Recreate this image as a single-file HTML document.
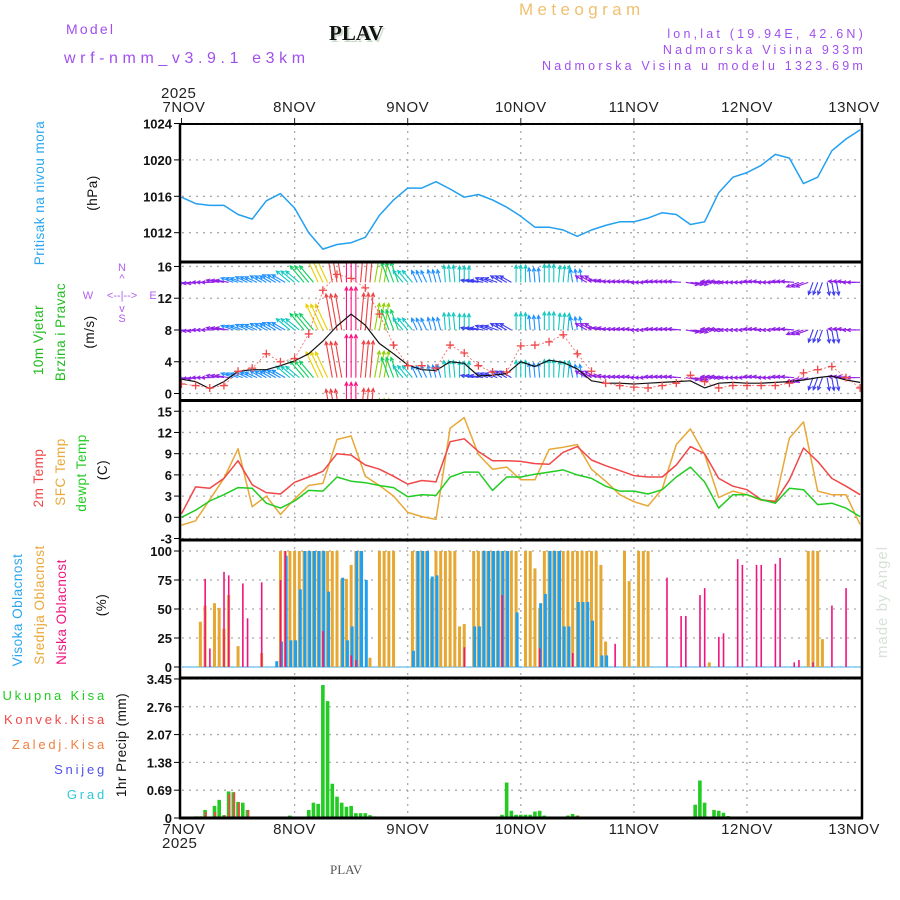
<!DOCTYPE html>
<html><head><meta charset="utf-8"><style>
html,body{margin:0;padding:0;background:#fff;}
svg{display:block;font-family:"Liberation Sans",sans-serif;}
.tk{font-size:13px;font-weight:bold;fill:#111;text-anchor:end;}
.xt{font-size:15px;fill:#222;letter-spacing:0.5px;}
.lg{font-size:13px;letter-spacing:2.8px;}
</style></head><body>
<svg id="chart" width="900" height="900" viewBox="0 0 900 900">
<defs>
<clipPath id="cpP"><rect x="180" y="124" width="682" height="138"/></clipPath>
<clipPath id="cpW"><rect x="181" y="263" width="681" height="137"/></clipPath>
<clipPath id="cpT"><rect x="180" y="401" width="682" height="139"/></clipPath>
</defs>
<text x="66" y="34" fill="#a050ee" font-size="14" letter-spacing="2.2">Model</text>
<text x="64" y="63" fill="#a050ee" font-size="16" letter-spacing="4.6">wrf-nmm_v3.9.1 e3km</text>
<text x="331" y="42" fill="#ccdccc" font-size="21" font-weight="bold" font-family="Liberation Serif,serif">PLAV</text>
<text x="329" y="40" fill="#111" font-size="21" font-weight="bold" font-family="Liberation Serif,serif">PLAV</text>
<text x="519" y="15" fill="#f0c070" font-size="17" letter-spacing="4.4">Meteogram</text>
<text x="866" y="38" fill="#a050ee" font-size="12.5" letter-spacing="3.2" text-anchor="end">lon,lat (19.94E, 42.6N)</text>
<text x="866" y="54" fill="#a050ee" font-size="12.5" letter-spacing="3.2" text-anchor="end">Nadmorska Visina 933m</text>
<text x="866" y="70" fill="#a050ee" font-size="12.5" letter-spacing="3.2" text-anchor="end">Nadmorska Visina u modelu 1323.69m</text>
<text x="161" y="98" class="xt">2025</text>
<text transform="translate(887 602) rotate(-90)" fill="#d8e2d8" font-size="15" letter-spacing="1" text-anchor="middle">made by Angel</text>
<g font-size="13.5" letter-spacing="0.5">
<text transform="translate(44 193) rotate(-90)" text-anchor="middle" fill="#2aa6f0">Pritisak na nivou mora</text>
<text transform="translate(97 193) rotate(-90)" text-anchor="middle" fill="#111">(hPa)</text>
<text transform="translate(43 340) rotate(-90)" text-anchor="middle" fill="#22bb22">10m Vjetar</text>
<text transform="translate(65 332) rotate(-90)" text-anchor="middle" fill="#22bb22">Brzina i Pravac</text>
<text transform="translate(94 332) rotate(-90)" text-anchor="middle" fill="#111">(m/s)</text>
<text transform="translate(43 478) rotate(-90)" text-anchor="middle" fill="#f04848">2m Temp</text>
<text transform="translate(65 472) rotate(-90)" text-anchor="middle" fill="#e8a838">SFC Temp</text>
<text transform="translate(86 473) rotate(-90)" text-anchor="middle" fill="#22cc22">dewpt Temp</text>
<text transform="translate(107 470) rotate(-90)" text-anchor="middle" fill="#111">(C)</text>
<text transform="translate(22 610) rotate(-90)" text-anchor="middle" fill="#2aa6f0">Visoka Oblacnost</text>
<text transform="translate(44 605) rotate(-90)" text-anchor="middle" fill="#e8a838">Srednja Oblacnost</text>
<text transform="translate(66 612) rotate(-90)" text-anchor="middle" fill="#f0147f">Niska Oblacnost</text>
<text transform="translate(106 605) rotate(-90)" text-anchor="middle" fill="#111">(%)</text>
<text transform="translate(126 745) rotate(-90)" text-anchor="middle" fill="#111">1hr Precip (mm)</text>
</g>
<g class="lg" text-anchor="end">
<text x="107" y="700" fill="#22cc22">Ukupna Kisa</text>
<text x="107" y="724" fill="#f04848">Konvek.Kisa</text>
<text x="107" y="749" fill="#f08040">Zaledj.Kisa</text>
<text x="107" y="774" fill="#5050f0">Snijeg</text>
<text x="107" y="799" fill="#30c8d8">Grad</text>
</g>
<g fill="#b060f0" font-size="11" text-anchor="middle">
<text x="122" y="271">N</text><text x="122" y="282">^</text>
<text x="122" y="299">&lt;--|--&gt;</text>
<text x="88" y="299">W</text><text x="153" y="299">E</text>
<text x="122" y="312">v</text><text x="122" y="322">S</text>
</g>
<text x="162" y="848" class="xt">2025</text>
<text x="330" y="874" fill="#555" font-size="13" font-family="Liberation Serif,serif">PLAV</text>
<g id="plots"></g>
</svg>
<script>
const NS='http://www.w3.org/2000/svg';
const days=['7NOV','8NOV','9NOV','10NOV','11NOV','12NOV','13NOV'];
const pTicks=[1012,1016,1020,1024];
const wTicks=[0,4,8,12,16];
const tTicks=[-3,0,3,6,9,12,15];
const cTicks=[0,25,50,75,100];
const rTicks=[0,0.69,1.38,2.07,2.76,3.45];
// 3-hourly series, hour 0..144
const pressure=[1015.9,1015.2,1015.0,1015.0,1014.0,1013.5,1015.5,1016.3,1014.7,1012.0,1010.2,1010.7,1010.9,1011.5,1013.9,1015.6,1016.9,1016.9,1017.6,1016.8,1015.9,1016.2,1015.6,1014.8,1013.8,1012.6,1012.6,1012.3,1011.6,1012.3,1012.8,1013.2,1013.2,1013.6,1014.2,1014.0,1012.9,1013.2,1016.4,1018.1,1018.6,1019.4,1020.6,1020.2,1017.4,1018.1,1021.0,1022.3,1023.3];
const temp2m=[0.5,4.3,4.1,5.5,8.0,4.6,3.5,3.3,4.95,5.7,6.5,9.0,8.8,7.4,6.8,5.8,4.7,5.2,5.0,10.7,11.1,9.3,8.0,8.0,7.9,7.6,7.5,9.2,10.0,8.1,7.3,6.6,5.9,5.7,5.7,7.4,10.0,9.0,5.5,4.4,3.9,2.5,2.2,5.3,9.8,7.9,5.5,4.4,3.2];
const tempSfc=[-1.1,-0.5,2.5,5.5,9.7,1.5,3.0,0.4,2.6,4.5,4.8,11.0,11.5,5.8,4.5,3.0,0.7,0.1,-0.3,12.6,14.1,8.9,6.8,7.1,5.3,5.3,9.6,9.9,10.3,6.8,5.1,3.2,2.2,1.6,4.0,10.3,12.5,8.9,2.8,3.7,3.2,2.4,2.3,11.2,13.5,3.7,3.2,3.2,-1.0];
const dewpt=[0.0,1.0,2.3,3.2,4.2,4.1,2.0,1.3,2.3,3.8,3.7,5.7,5.1,4.9,4.5,4.2,2.9,3.2,3.1,5.7,6.4,6.4,3.8,5.7,5.7,6.1,6.4,6.7,6.0,5.5,4.4,3.7,3.7,3.3,3.9,5.7,7.1,5.0,1.3,3.2,3.2,2.5,2.0,4.1,3.9,1.8,2.0,1.3,0.1];
const windSpeed=[1.8,1.5,0.6,1.5,2.8,3.0,3.0,3.5,4.1,5.0,6.6,8.5,10.0,8.6,6.3,5.0,3.6,3.0,2.9,4.0,3.8,2.2,2.3,2.5,4.0,3.4,4.2,3.9,3.1,1.6,1.3,1.3,1.2,1.3,1.4,1.5,1.6,0.7,1.3,1.4,1.3,1.3,1.4,1.5,1.7,2.0,2.2,1.7,1.4];
const windGust=[1.2,1.0,0.7,1.0,2.8,3.2,5.0,4.0,4.4,7.5,13.0,15.0,14.5,13.3,10.0,6.1,3.5,3.5,3.2,6.1,5.1,3.5,2.7,2.7,6.0,6.1,6.5,7.4,5.0,2.8,1.3,1.0,0.8,0.7,1.0,1.3,2.3,1.5,0.7,1.0,1.0,1.0,1.0,1.3,2.6,3.0,3.4,2.0,0.7];
const windDir=[265,265,270,280,290,295,300,300,310,320,335,350,0,5,10,340,320,335,345,355,0,280,290,300,0,355,0,5,350,300,280,275,275,270,275,275,100,90,275,270,270,275,270,275,250,200,170,275,270];
// clouds (hour, %)
const hiHours=[20,21,22,23,24,25,26,27,28,29,30,31,34,35,36,37,38,39,49,50,51,52,53,54,62,63,64,65,66,67,68,69,71,76,77,78,79,80,81,82,84,85,86,87,89,90];
const hiVals=[5,22,96,23,23,67,100,100,100,100,100,65,77,23,35,100,100,75,14,100,100,100,78,79,35,35,100,100,100,100,100,100,47,55,63,100,100,100,35,35,56,56,56,40,10,10];
const midHours=[4,5,7,8,9,10,12,17,21,22,23,24,25,26,27,28,29,30,31,32,33,34,35,36,37,38,40,42,43,44,45,49,50,51,52,53,54,55,56,57,58,59,60,62,63,64,65,66,67,68,69,70,71,73,74,75,76,77,78,79,80,81,82,83,84,85,86,87,88,89,90,94,95,97,98,99,112,133,134,135,136];
const midVals=[39,53,55,51,33,62,18,12,100,100,100,100,100,100,100,100,100,100,100,100,100,76,76,88,100,100,8,100,100,100,100,100,100,100,100,76,100,100,100,100,100,35,37,100,100,100,100,100,100,100,100,100,100,100,100,85,51,100,100,100,100,100,100,100,100,100,100,100,100,88,22,100,74,100,100,100,4,100,100,100,24];
const lowHours=[5,6,9,10,13,14,17,21,22,30,36,37,60,68,76,83,92,103,106,107,110,111,114,115,118,119,122,123,126,127,130,131,134,138,141];
const lowVals=[76,16,82,79,72,42,73,75,100,31,10,6,17,62,16,12,20,77,44,44,62,68,26,29,93,88,88,88,89,94,4,6,4,53,68];
// precipitation (hour, mm)
const prHours=[3,4,5,7,8,9,10,11,12,13,14,23,27,28,29,30,31,32,33,34,35,36,37,38,39,40,41,60,67,68,69,70,71,72,73,74,75,76,77,82,83,84,108,109,110,111,113,114,115,116];
const prTotal=[0.04,0.04,0.2,0.3,0.45,0.07,0.66,0.64,0.4,0.38,0.2,0.06,0.2,0.38,0.35,3.3,2.9,0.85,0.53,0.38,0.28,0.3,0.12,0.12,0.12,0.07,0.04,0.03,0.03,0.08,0.88,0.18,0.08,0.08,0.08,0.08,0.16,0.18,0.06,0.06,0.1,0.06,0.03,0.33,0.93,0.38,0.2,0.18,0.13,0.05];
const cvHours=[3,4,5,7,9,10,11,12,14,60,84,108];
const cvVals=[0.04,0.04,0.15,0.15,0.07,0.6,0.64,0.38,0.2,0.03,0.06,0.03];

const X0=181.5, PX_H=113.1/24;
const xs=h=>X0+h*PX_H;
const yP=v=>123.5+(1024-v)*9.1;
const yW=v=>393.5-v*7.94;
const yT=v=>517.3-v*7.07;
const yC=v=>667-v*1.16;
const yR=v=>818-v*40.3;
const root=document.getElementById('plots');
function mk(tag,attrs,parent){const e=document.createElementNS(NS,tag);for(const k in attrs)e.setAttribute(k,attrs[k]);(parent||root).appendChild(e);return e;}
function group(name){const g=mk('g',{});


return g;}

const panels=[{t:124,b:262,ticks:pTicks,y:yP,name:'pressure'},{t:262,b:400.5,ticks:wTicks,y:yW,name:'wind'},{t:400.5,b:540,ticks:tTicks,y:yT,name:'temperature'},{t:540,b:678,ticks:cTicks,y:yC,name:'cloud'},{t:678,b:818,ticks:rTicks,y:yR,name:'precip'}];
const grid=group('grid-lines');
panels.forEach(p=>{
  p.ticks.forEach(v=>{const yy=p.y(v);
    const l=mk('line',{x1:182,x2:861,y1:yy,y2:yy,stroke:'#aaa','stroke-width':1.3,'stroke-dasharray':'2 5'},grid);
    
    
    const t=mk('text',{x:172,y:yy+5,class:'tk'});t.textContent=v;
    
    
  });
  for(let d=1;d<6;d++){const xx=xs(d*24);
    const l=mk('line',{x1:xx,x2:xx,y1:p.t,y2:p.b,stroke:'#aaa','stroke-width':1.3,'stroke-dasharray':'2 5'},grid);
    
    }
});
days.forEach((d,i)=>{const xx=xs(i*24);
  const t=mk('text',{x:i==0?xx-19:xx-(i==6?6:0),y:112,class:'xt','text-anchor':i==0?'start':'middle'});t.textContent=d;
  
  
  const b=mk('text',{x:i==0?xx-19:xx-(i==6?6:0),y:834,class:'xt','text-anchor':i==0?'start':'middle'});b.textContent=d;
  
  
  const tk=mk('line',{x1:xx,x2:xx,y1:118,y2:124,stroke:'#222','stroke-width':1});
  
  
});
function path(arr,yf,color,name,clip,w){let d='';arr.forEach((v,i)=>{d+=(i?'L':'M')+xs(i*3).toFixed(1)+' '+yf(v).toFixed(1);});
  const p=mk('path',{d:d,fill:'none',stroke:color,'stroke-width':w||1.4,'stroke-linejoin':'round','clip-path':'url(#'+clip+')'});
  
  
  return p;}
path(pressure,yP,'#22a0f0','pressure-line','cpP',1.5);
path(tempSfc,yT,'#e8a838','sfc-temp-line','cpT',1.5);
path(temp2m,yT,'#f04848','temp-2m-line','cpT',1.5);
path(dewpt,yT,'#22cc22','dewpoint-line','cpT',1.5);

function spColor(s){if(s<1.8)return '#9020e8';if(s<2.7)return '#3c3cf0';if(s<3.6)return '#1e90ff';if(s<4.5)return '#10c8c0';if(s<5.5)return '#10d060';if(s<6.5)return '#90d000';if(s<7.5)return '#e8d000';if(s<8.5)return '#f0a000';if(s<9.5)return '#f04040';return '#ff1080';}
const wg=mk('g',{'clip-path':'url(#cpW)'});


// arrows drawn every hour, each using the nearest 3-hourly observation
for(let h=0;h<=144;h++){const i=Math.round(h/3);const s=windSpeed[i];const x=xs(h);const a=windDir[i]*Math.PI/180;const L=Math.max(s*4.3,13);
  const dx=L*Math.sin(a),dy=-L*Math.cos(a);const c=spColor(s);
  [-4,2,8,14,20].forEach(b=>{const y=yW(b);const ex=x+dx,ey=y+dy;
    const ha=Math.atan2(dy,dx);
    const h1x=ex-4*Math.cos(ha-0.45),h1y=ey-4*Math.sin(ha-0.45),h2x=ex-4*Math.cos(ha+0.45),h2y=ey-4*Math.sin(ha+0.45);
    const ar=mk('path',{d:`M${x} ${y}L${ex} ${ey}M${h1x} ${h1y}L${ex} ${ey}L${h2x} ${h2y}`,stroke:c,'stroke-width':1.1,fill:'none'},wg);
    
    
  });
}
path(windSpeed,yW,'#111','wind-speed-line','cpW',1.2);
path(windGust,yW,'#f06060','wind-gust-line','cpW',0.8).setAttribute('stroke-dasharray','2 2');
windGust.forEach((g,i)=>{const x=xs(i*3),y=yW(g);
  const c=mk('path',{d:`M${x-4} ${y}H${x+4}M${x} ${y-4}V${y+4}`,stroke:'#f04848','stroke-width':1.3,'clip-path':'url(#cpW)'});
  
  
});
const cb=mk('line',{x1:182,x2:861,y1:667,y2:667,stroke:'#7fc8f0','stroke-width':1.5});


midHours.forEach((h,i)=>{const r=mk('rect',{x:xs(h)-1.5,y:yC(midVals[i]),width:3,height:667-yC(midVals[i]),fill:'#e6a832'});
  
  });
hiHours.forEach((h,i)=>{const r=mk('rect',{x:xs(h)-0.5,y:yC(hiVals[i]),width:3,height:667-yC(hiVals[i]),fill:'#1ea0f0'});
  
  });
lowHours.forEach((h,i)=>{const r=mk('rect',{x:xs(h)-0.7,y:yC(lowVals[i]),width:1.6,height:667-yC(lowVals[i]),fill:'#f0147f'});
  
  });
prHours.forEach((h,i)=>{const r=mk('rect',{x:xs(h)-1.8,y:yR(prTotal[i]),width:3.6,height:818-yR(prTotal[i]),fill:'#22cc22'});
  
  });
cvHours.forEach((h,i)=>{const r=mk('rect',{x:xs(h)-0.2,y:yR(cvVals[i]),width:2,height:818-yR(cvVals[i]),fill:'#f04848'});
  
  });
const fr=group('panel-frames');
[124,262,400.5,540,678,818].forEach(y=>{mk('line',{x1:179,x2:863,y1:y,y2:y,stroke:'#000','stroke-width':y==124?2:3},fr);});
mk('line',{x1:180,x2:180,y1:123,y2:819,stroke:'#000','stroke-width':2.5},fr);
mk('line',{x1:862,x2:862,y1:123,y2:819,stroke:'#000','stroke-width':2.5},fr);
panels.forEach(p=>p.ticks.forEach(v=>mk('line',{x1:174,x2:180,y1:p.y(v),y2:p.y(v),stroke:'#000','stroke-width':1},fr)));
</script>
</body></html>
